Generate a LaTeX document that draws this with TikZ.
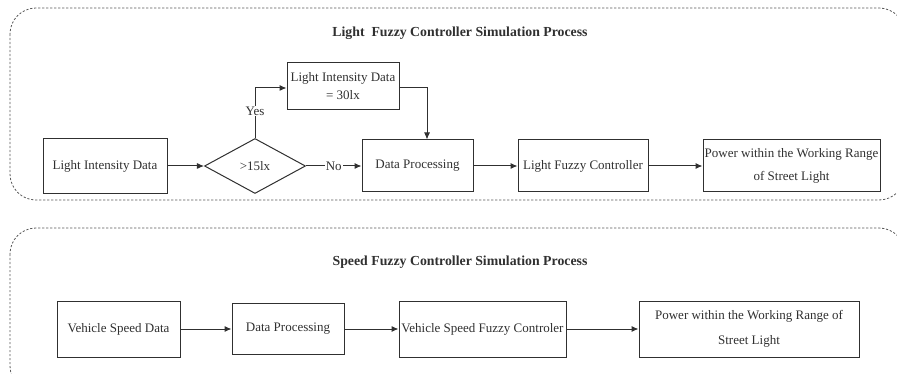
\documentclass[tikz,border=0pt]{standalone}
\usepackage{fontspec}
\setmainfont{Liberation Serif}
\usetikzlibrary{arrows.meta,shapes.geometric}
\definecolor{ink}{HTML}{303030}
\tikzset{
  proc/.style={draw=ink, line width=1pt, text=ink, align=center, inner sep=1pt,
    font=\fontsize{13}{18}\selectfont},
  decide/.style={draw=ink, line width=1pt, text=ink, diamond, aspect=1.84, inner sep=0pt,
    minimum width=101pt, minimum height=55pt, font=\fontsize{13}{18}\selectfont},
  flow/.style={draw=ink, line width=1pt, -{Latex[length=7pt,width=6pt]}},
  group/.style={draw=ink!80, line width=0.8pt, dash pattern=on 2.2pt off 1.8pt, rounded corners=26pt},
  heading/.style={text=ink, font=\fontsize{13.8}{16}\selectfont\bfseries},
  lbl/.style={text=ink, fill=white, inner sep=1pt, font=\fontsize{13}{16}\selectfont}
}
\begin{document}
\begin{tikzpicture}[x=1pt, y=-1pt]
\useasboundingbox (0,0) rectangle (897,374);
\clip (0,0) rectangle (897,374);

% group frames
\draw[group] (10,8) rectangle (905,200);
\draw[group] (10,228) rectangle (905,392);

% light controller chain
\node[heading] (t1) at (460,33) {Light\ \ Fuzzy Controller Simulation Process};
\node[proc, minimum width=124pt, minimum height=55pt] (lid) at (105,166) {Light Intensity Data};
\node[decide] (chk) at (255,166) {>15lx};
\node[proc, minimum width=112pt, minimum height=47pt] (set) at (343,86) {Light Intensity Data\\= 30lx};
\node[proc, minimum width=111pt, minimum height=52pt] (dp1) at (417.5,166) {Data Processing};
\node[proc, minimum width=130pt, minimum height=52pt] (lfc) at (583,166) {Light Fuzzy Controller};
\node[proc, minimum width=177pt, minimum height=52pt, font=\fontsize{13}{23}\selectfont] (pw1) at (791.5,166) {Power within the Working Range\\of Street Light};

\draw[flow] (lid) -- (chk);
\draw[flow] (chk.north) |- (set.west |- 0,88);
\node[lbl] at (255,111) {Yes};
\draw[flow] (set.east |- 0,88) -| (427,0 |- dp1.north);
\draw[flow] (chk.east) -- node[lbl] {No} (dp1.west);
\draw[flow] (dp1) -- (lfc);
\draw[flow] (lfc) -- (pw1);

% speed controller chain
\node[heading] (t2) at (460,262) {Speed Fuzzy Controller Simulation Process};
\node[proc, minimum width=123pt, minimum height=56pt] (vsd) at (118.5,329) {Vehicle Speed Data};
\node[proc, minimum width=112pt, minimum height=51pt] (dp2) at (288,329) {Data Processing};
\node[proc, minimum width=167pt, minimum height=56pt] (vfc) at (482.5,329) {Vehicle Speed Fuzzy Controler};
\node[proc, minimum width=220pt, minimum height=56pt, font=\fontsize{13}{25}\selectfont] (pw2) at (749,329) {Power within the Working Range of\\Street Light};

\draw[flow] (vsd) -- (dp2);
\draw[flow] (dp2) -- (vfc);
\draw[flow] (vfc) -- (pw2);
\end{tikzpicture}
\end{document}
